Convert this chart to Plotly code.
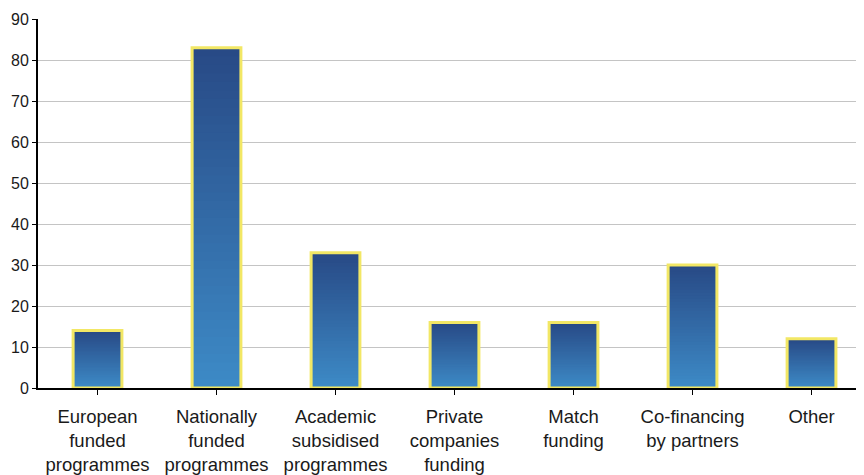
import plotly.graph_objects as go

categories = ["European<br>funded<br>programmes", "Nationally<br>funded<br>programmes",
              "Academic<br>subsidised<br>programmes", "Private<br>companies<br>funding",
              "Match<br>funding", "Co-financing<br>by partners", "Other"]
values = [14, 83, 33, 16, 16, 30, 12]
y_ticks = [0, 10, 20, 30, 40, 50, 60, 70, 80, 90]

top_rgb = (40, 74, 134)
bot_rgb = (61, 138, 198)
N = 40
BAR_W = 0.41

fig = go.Figure()
xs = list(range(len(categories)))
for k in range(N):
    t = k / (N - 1)
    r = round(bot_rgb[0] + (top_rgb[0] - bot_rgb[0]) * t)
    g = round(bot_rgb[1] + (top_rgb[1] - bot_rgb[1]) * t)
    b = round(bot_rgb[2] + (top_rgb[2] - bot_rgb[2]) * t)
    bases = [v * k / N for v in values]
    heights = [v - bb for v, bb in zip(values, bases)]
    fig.add_trace(go.Bar(x=xs, y=heights, base=bases, width=BAR_W,
                         marker=dict(color=f"rgb({r},{g},{b})", line=dict(width=0)),
                         hoverinfo="skip", showlegend=False))

fig.add_trace(go.Bar(x=xs, y=values, base=[0] * len(values), width=BAR_W,
                     marker=dict(color="rgba(0,0,0,0)", line=dict(color="#F2E765", width=3)),
                     showlegend=False))

fig.update_layout(
    width=856, height=467,
    margin=dict(l=30, r=0, t=11, b=87),
    barmode="overlay",
    plot_bgcolor="white", paper_bgcolor="white",
    font=dict(family="Liberation Sans, Arial, sans-serif", color="#1a1a1a"),
)
fig.update_xaxes(
    range=[-0.5, 6.441], automargin=False,
    tickmode="array", tickvals=xs, ticktext=categories,
    tickson="boundaries", ticks="outside", ticklen=5, tickcolor="black",
    ticklabelstandoff=6,
    showline=True, linecolor="black", linewidth=1.5,
    showgrid=False, tickfont=dict(size=18.5),
)
fig.update_yaxes(
    range=[0, 90], tickmode="array", tickvals=y_ticks, automargin=False,
    ticks="outside", ticklen=4, tickcolor="black",
    showline=True, linecolor="black", linewidth=2,
    showgrid=True, gridcolor="#C4C4C4", gridwidth=1,
    zeroline=False, tickfont=dict(size=16),
)

fig.write_html("out.html")
